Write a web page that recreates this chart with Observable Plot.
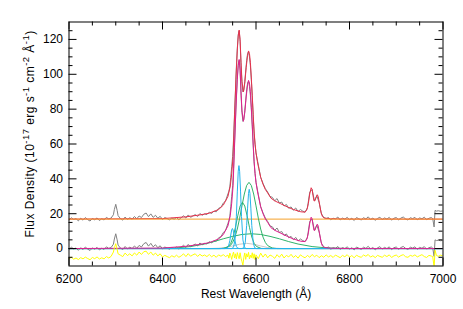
<!DOCTYPE html>
<html><head><meta charset="utf-8">
<script src="https://cdn.jsdelivr.net/npm/d3@7"></script>
<script src="https://cdn.jsdelivr.net/npm/@observablehq/plot@0.6"></script>
<style>body{margin:0;background:#fff}</style>
</head><body><div id="chart"></div>
<script>
// ---- data (wavelength in Å, flux in 1e-17 erg/s/cm2/Å) ----
const continuumLevel = 16.9;
const xTitle = "Rest Wavelength (Å)";
const yTitle = "Flux Density (10-17 erg s-1 cm-2 Å-1)";
const yTitleParts = [["Flux Density (10", false], ["-17", true], [" erg s", false], ["-1", true], [" cm", false], ["-2", true], [" Å", false], ["-1", true], [")", false]];
const xMajor = [6200, 6400, 6600, 6800, 7000];
const xMinor = [6250, 6300, 6350, 6450, 6500, 6550, 6650, 6700, 6750, 6850, 6900, 6950];
const yMajor = [0, 20, 40, 60, 80, 100, 120];
const yMinor = [-5, 5, 10, 15, 25, 30, 35, 45, 50, 55, 65, 70, 75, 85, 90, 95, 105, 110, 115, 125];

// continuum-subtracted observed spectrum
const observed = [
[6200,-0.5],[6205,0.8],[6210,-0.2],[6215,0.3],[6220,-1.0],[6225,0.5],[6230,-0.6],[6235,0.9],[6240,-0.3],[6245,-1.1],
[6250,0.4],[6255,-0.4],[6260,0.7],[6265,-0.8],[6270,0.2],[6275,-0.5],[6280,1.0],[6285,0.1],[6290,0.6],
[6295,2.5],[6297,5.5],[6300,8.5],[6303,5.0],[6305,2.0],
[6310,0.3],[6315,-0.6],[6320,1.2],[6325,-0.2],[6330,0.8],[6335,0.0],[6340,1.5],[6345,0.2],[6350,1.8],[6355,0.9],
[6360,2.8],[6365,3.5],[6370,1.4],[6375,3.0],[6380,1.0],[6385,2.2],[6390,0.5],[6395,1.6],[6400,-0.2],[6405,0.9],
[6410,0.3],[6415,-0.4],[6420,0.6],[6425,0.0],[6430,0.9],[6435,-0.3],[6440,0.8],[6445,1.9],[6450,0.6],[6455,2.4],
[6460,1.0],[6465,1.8],[6470,2.6],[6475,1.5],[6480,3.2],[6485,2.2],[6490,3.0],[6495,2.6],[6500,4.0],[6505,3.2],
[6510,4.6],[6515,4.2],[6520,6.2],[6525,6.8],[6530,9.2],[6535,10.5],[6540,14.5],
[6542,16],[6544,18.5],[6546,24],[6548,30],[6550,36],[6552,46],[6554,60],[6556,73],[6558,87],[6560,98],
[6562,106],[6564,108],[6566,102],[6568,88],[6570,78],[6572,73],[6574,74],[6576,79],[6578,85],[6580,91],
[6582,95],[6584,96],[6586,93],[6588,88],[6590,80],[6592,70],[6594,59],[6596,49],[6598,43],[6600,38],
[6605,31],[6610,24],[6615,20.5],[6620,17.5],[6625,15.5],[6630,13],[6635,12.5],[6640,10.5],[6645,11.8],[6650,9.2],
[6655,9.8],[6660,7.5],[6665,8.4],[6670,6.2],[6675,7.0],[6680,5.1],[6685,6.4],[6690,4.3],[6695,5.5],[6700,4.6],
[6705,4.0],[6710,6.5],[6715,15.5],[6720,17],[6725,10.5],[6730,13.5],[6735,9.5],[6740,3],[6745,1.0],[6750,0.3],
[6755,0.9],[6760,-0.4],[6765,0.5],[6770,0.1],[6775,1.2],[6780,-0.5],[6785,0.6],[6790,0.0],[6795,1.0],[6800,-0.3],
[6805,0.5],[6810,-0.8],[6815,0.9],[6820,0.2],[6825,-0.5],[6830,0.8],[6835,0.1],[6840,1.3],[6845,-0.2],[6850,0.6],
[6855,-0.7],[6860,0.4],[6865,1.1],[6870,-0.3],[6875,0.7],[6880,0.0],[6885,1.0],[6890,-0.6],[6895,0.5],[6900,0.9],
[6905,-0.4],[6910,0.6],[6915,1.2],[6920,0.1],[6925,-0.5],[6930,0.8],[6935,0.3],[6940,1.0],[6945,-0.4],[6950,0.7],
[6955,0.2],[6960,1.1],[6965,-0.3],[6970,0.5],[6975,0.9],
[6978,0.3],[6981,-4.5],[6983,5.0],[6986,4.6],[6990,4.8],[6995,4.5],[7000,4.7]
];

// fit residuals (offset below zero)
const residual = [
[6200,-5.8],[6205,-5.0],[6210,-6.1],[6215,-5.4],[6220,-6.3],[6225,-5.2],[6230,-5.9],[6235,-4.9],[6240,-5.7],[6245,-6.4],
[6250,-5.1],[6255,-5.8],[6260,-4.8],[6265,-6.0],[6270,-5.3],[6275,-5.9],[6280,-4.6],[6285,-5.4],[6290,-4.5],
[6295,-2.0],[6297,0.5],[6300,2.8],[6303,-0.5],[6305,-3.0],
[6310,-3.8],[6315,-4.6],[6320,-2.6],[6325,-4.0],[6330,-3.0],[6335,-4.2],[6340,-2.5],[6345,-3.8],[6350,-2.0],[6355,-3.4],
[6360,-1.8],[6365,-1.5],[6370,-3.3],[6375,-2.0],[6380,-3.8],[6385,-2.6],[6390,-4.2],[6395,-3.0],[6400,-4.8],[6405,-3.9],
[6410,-4.6],[6415,-5.2],[6420,-4.1],[6425,-4.9],[6430,-3.8],[6435,-5.0],[6440,-4.2],[6445,-3.0],[6450,-4.6],[6455,-2.9],
[6460,-4.4],[6465,-3.6],[6470,-3.0],[6475,-4.5],[6480,-3.3],[6485,-4.3],[6490,-3.7],[6495,-4.6],[6500,-3.4],[6505,-4.7],
[6510,-3.8],[6515,-5.0],[6520,-3.6],[6525,-4.4],[6530,-3.5],[6535,-4.6],[6540,-3.7],
[6542,-5.5],[6544,-2.6],[6546,-4.0],[6548,-6.2],[6550,-3.5],[6552,-2.0],[6554,-5.4],[6556,-3.0],[6558,-6.0],[6560,-2.3],
[6562,-4.4],[6564,-5.8],[6566,-2.4],[6568,-5.5],[6570,-7.5],[6572,-9.5],[6574,-5.0],[6576,-2.5],[6578,-6.2],[6580,-3.0],
[6582,-4.8],[6584,-2.2],[6586,-6.0],[6588,-3.8],[6590,-5.2],[6592,-2.4],[6594,-5.6],[6596,-3.0],[6598,-6.3],[6600,-3.6],
[6605,-5.8],[6610,-2.6],[6615,-4.9],[6620,-3.1],[6625,-5.3],[6630,-3.7],[6635,-4.4],[6640,-5.6],[6645,-3.5],[6650,-5.0],
[6655,-3.2],[6660,-5.4],[6665,-3.9],[6670,-4.8],[6675,-3.3],[6680,-5.1],[6685,-4.0],[6690,-5.5],[6695,-3.6],[6700,-4.6],
[6705,-5.3],[6710,-3.9],[6715,-5.0],[6720,-3.4],[6725,-4.7],[6730,-3.8],[6735,-5.2],[6740,-4.1],[6745,-5.0],[6750,-3.6],
[6755,-4.8],[6760,-4.0],[6765,-5.1],[6770,-3.7],[6775,-4.5],[6780,-5.2],[6785,-3.9],[6790,-4.7],[6795,-3.5],[6800,-4.9],
[6805,-4.0],[6810,-5.3],[6815,-3.8],[6820,-4.6],[6825,-5.0],[6830,-3.7],[6835,-4.4],[6840,-3.4],[6845,-4.9],[6850,-4.1],
[6855,-5.2],[6860,-3.9],[6865,-4.5],[6870,-5.0],[6875,-3.8],[6880,-4.6],[6885,-3.6],[6890,-5.1],[6895,-4.2],[6900,-3.7],
[6905,-4.9],[6910,-4.0],[6915,-3.5],[6920,-4.7],[6925,-5.0],[6930,-3.9],[6935,-4.4],[6940,-3.6],[6945,-4.8],[6950,-4.1],
[6955,-3.5],[6960,-4.6],[6965,-5.1],[6970,-3.9],[6975,-4.3],
[6978,-4.6],[6981,-10.5],[6983,-1.0],[6986,-4.0],[6990,-4.4],[6995,-3.8],[7000,-4.2]
];

// total line model (continuum-subtracted)
const totalModel = [
[6200,0],[6400,0.3],[6450,1.3],[6480,2.4],[6500,3.4],[6520,5.5],[6530,8],[6540,13],[6545,19],[6548,26],
[6551,36],[6554,58],[6557,80],[6560,97],[6562,105],[6564,108.5],[6566,103],[6568,90],[6570,79],[6573,73],
[6576,78],[6579,87],[6582,94],[6584,96.5],[6586,95],[6588,90],[6590,81],[6592,71],[6594,60],[6596,50],
[6598,43],[6600,38],[6603,33],[6606,29],[6610,24],[6615,20],[6620,17],[6625,15],[6632,12],[6640,10.5],
[6653,8.8],[6667,7],[6680,5.5],[6696,4.2],[6705,4],[6709,5.5],[6712,9],[6715,14.5],[6718,18],[6720,17],
[6722,13.5],[6724,10.5],[6726,10.5],[6728,12],[6731,14],[6733,13],[6736,8.5],[6739,4],[6742,1.5],[6746,0.6],
[6760,0.2],[6800,0],[7000,0]
];

// individual components
const narrowN6548 = [[6200,0],[6534,0],[6538,0.2],[6541,1.2],[6544,4.5],[6546,7.8],[6548,10.7],[6549.5,11.5],[6551,10.7],[6553,7.8],[6555,4.5],[6558,1.2],[6561,0.2],[6565,0],[7000,0]];
const narrowHa = [[6200,0],[6548,0],[6552,0.8],[6555,5],[6558,18.5],[6560,32.5],[6562,44.4],[6563.5,47.6],[6565,44.4],[6567,32.5],[6569,18.5],[6572,5],[6575,0.8],[6579,0],[7000,0]];
const narrowN6583 = [[6200,0],[6570,0],[6574,0.55],[6577,3.6],[6580,13.2],[6582,23.2],[6584,31.7],[6585.5,34],[6587,31.7],[6589,23.2],[6591,13.2],[6594,3.6],[6597,0.55],[6601,0],[7000,0]];
const greenMid = [[6200,0],[6521,0],[6531,0.1],[6541,1.2],[6546,3.0],[6551,6.6],[6556,12.2],[6561,18.8],[6566,24.4],[6571,26.6],[6576,24.4],[6581,18.8],[6586,12.2],[6591,6.6],[6596,3.0],[6601,1.2],[6611,0.1],[6621,0],[7000,0]];
const greenInter = [[6200,0],[6525,0],[6535,0.3],[6545,1.7],[6550,3.5],[6555,6.6],[6560,11.2],[6565,17.4],[6570,24.5],[6575,31.3],[6580,36.2],[6585,38],[6590,36.2],[6595,31.3],[6600,24.5],[6605,17.4],[6610,11.2],[6615,6.6],[6620,3.5],[6625,1.7],[6635,0.3],[6645,0],[7000,0]];
const greenBroad = [[6200,0],[6390,0.07],[6430,0.4],[6460,1.15],[6490,2.6],[6510,4.0],[6530,5.6],[6550,7.0],[6570,8.1],[6590,8.5],[6610,8.1],[6630,7.0],[6650,5.6],[6670,4.0],[6690,2.6],[6720,1.15],[6750,0.4],[6790,0.07],[7000,0]];
const grayComp = [[6200,0],[6500,0],[6520,0.2],[6535,0.6],[6550,1.5],[6565,2.5],[6580,3],[6595,2.5],[6610,1.5],[6625,0.6],[6640,0.2],[6660,0],[7000,0]];
const continuum = [[6200,16.9],[7000,16.9]];

// ---- derived tables (spectrum + continuum) ----
const observedUpper = observed.map(([w, f]) => [w, f + continuumLevel]);
const modelUpper = totalModel.map(([w, f]) => [w, f + continuumLevel]);

const W = 463, H = 309, mL = 68.5, mR = 20.5, mT = 21.5, mB = 43.5;
const fw = W - mL - mR, fh = H - mT - mB;
const majorLen = 8, minorLen = 4;
const ln = (data, stroke) => Plot.line(data, {x: "0", y: "1", stroke, strokeWidth: 1, clip: true});

const chart = Plot.plot({
  width: W, height: H,
  marginLeft: mL, marginRight: mR, marginTop: mT, marginBottom: mB,
  x: {domain: [6200, 7000], label: null},
  y: {domain: [-10, 130], label: null},
  style: {fontFamily: "'Liberation Sans', Arial, sans-serif", fontSize: "12px", background: "#fff", color: "#000"},
  marks: [
    ln(observedUpper, "#808080"),
    ln(modelUpper, "#e8304c"),
    ln(continuum, "#f5a02a"),
    ln(observed, "#808080"),
    ln(grayComp, "#c8c8c8"),
    ln(greenBroad, "#2fb36a"),
    ln(greenInter, "#2fb36a"),
    ln(greenMid, "#2fb36a"),
    ln(narrowN6548, "#25b4ea"),
    ln(narrowHa, "#25b4ea"),
    ln(narrowN6583, "#25b4ea"),
    ln(totalModel, "#e0208e"),
    ln(residual, "#ffff00"),
    Plot.frame({stroke: "#000"}),
    Plot.ruleX(xMajor, {insetTop: fh - majorLen, stroke: "#000"}),
    Plot.ruleX(xMinor, {insetTop: fh - minorLen, stroke: "#000"}),
    Plot.ruleX(xMajor, {insetBottom: fh - majorLen, stroke: "#000"}),
    Plot.ruleX(xMinor, {insetBottom: fh - minorLen, stroke: "#000"}),
    Plot.ruleY(yMajor, {insetRight: fw - majorLen, stroke: "#000"}),
    Plot.ruleY(yMinor, {insetRight: fw - minorLen, stroke: "#000"}),
    Plot.ruleY(yMajor, {insetLeft: fw - majorLen, stroke: "#000"}),
    Plot.ruleY(yMinor, {insetLeft: fw - minorLen, stroke: "#000"}),
    Plot.axisX({ticks: xMajor, tickSize: 0, tickPadding: 8, tickFormat: "d", label: null}),
    Plot.axisY({ticks: yMajor, tickSize: 0, tickPadding: 6, tickFormat: "d", label: null}),
    Plot.text([xTitle], {frameAnchor: "bottom", dy: 23, lineAnchor: "top", text: d => d, fontSize: 12}),
    Plot.text([yTitle], {frameAnchor: "left", dx: -38.5, dy: -10, rotate: -90, textAnchor: "middle", lineAnchor: "middle", text: d => d, fontSize: 12})
  ]
});

// superscripts in the y title
d3.select(chart).selectAll("text").filter(function () { return this.textContent === yTitle; }).each(function () {
  const t = d3.select(this);
  t.attr("text-anchor", "middle").attr("letter-spacing", "0.45px");
  t.text(null);
  let up = false;
  for (const [s, sup] of yTitleParts) {
    const ts = t.append("tspan").text(s);
    if (sup) { ts.attr("font-size", "9.5px"); if (!up) ts.attr("dy", -5); up = true; }
    else if (up) { ts.attr("dy", 5); up = false; }
  }
});

document.getElementById("chart").appendChild(chart);
</script>
</body></html>
